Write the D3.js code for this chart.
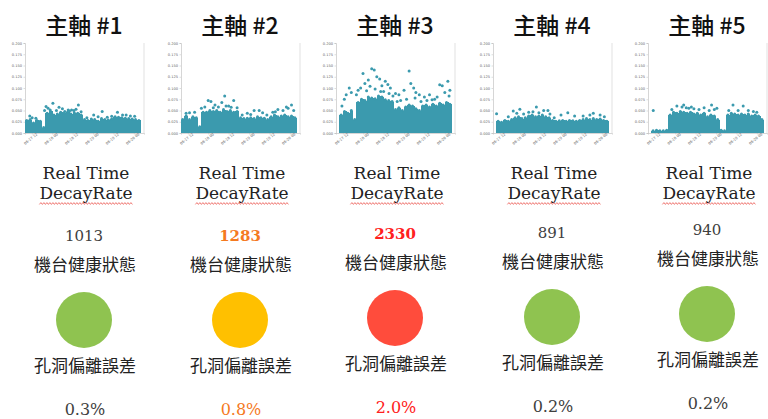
<!DOCTYPE html>
<html>
<head>
<meta charset="utf-8">
<script src="https://cdn.jsdelivr.net/npm/d3@7"></script>
<style>
  body { margin: 0; background: #fff; }
  svg { display: block; }
</style>
</head>
<body>
<div id="panel"></div>
<script>
// spindle names + status values
const spindles = ["主軸 #1", "主軸 #2", "主軸 #3", "主軸 #4", "主軸 #5"];
const decayRate = [1013, 1283, 2330, 891, 940];
const holeError = ["0.3%", "0.8%", "2.0%", "0.2%", "0.2%"];
const status = ["ok", "warn", "alarm", "ok", "ok"];

// y ticks of the small scatter charts
const yTicks = [0, 0.025, 0.05, 0.075, 0.1, 0.125, 0.15, 0.175, 0.2];
// x ticks (hours from 08-17 08:00)
const xTickHours = [4, 16, 28, 40, 52, 64];
const xTickLabels = ["08-17 12", "08-18 00", "08-18 12", "08-19 00", "08-19 12", "08-20 00"];

// dense band of points: top value per 2-hour bin
const binHours = [1,3,5,7,9,11,13,15,17,19,21,23,25,27,29,31,33,35,37,39,41,43,45,47,49,51,53,55,57,59,61,63,65,67];
const band1 = [0.028,0.030,0.022,0.028,0.026,0.012,0.044,0.048,0.040,0.042,0.046,0.044,0.046,0.042,0.045,0.044,0.040,0.030,0.028,0.031,0.030,0.026,0.032,0.030,0.029,0.031,0.036,0.035,0.034,0.033,0.032,0.031,0.030,0.028];
const band2 = [0.030,0.038,0.030,0.036,0.034,0.014,0.046,0.046,0.050,0.048,0.050,0.046,0.052,0.048,0.050,0.046,0.048,0.034,0.032,0.033,0.034,0.032,0.036,0.034,0.033,0.030,0.036,0.040,0.036,0.038,0.040,0.036,0.038,0.034];
const band3 = [0,0.040,0.048,0.044,0.050,0.030,0.068,0.075,0.072,0.080,0.078,0.076,0.082,0.080,0.074,0.072,0.070,0.052,0.056,0.050,0.058,0.062,0.060,0.054,0.050,0.060,0.062,0.058,0.064,0.060,0.066,0.062,0.068,0.064];
const band4 = [0,0.026,0.024,0.028,0.026,0.030,0.034,0.036,0.032,0.034,0.038,0.040,0.036,0.038,0.040,0.036,0.034,0.028,0.026,0.027,0.028,0.026,0.028,0.027,0.026,0.028,0.030,0.032,0.030,0.032,0.030,0.031,0.028,0.026];
const band5 = [0,0.005,0.006,0.005,0.005,0.006,0.040,0.046,0.044,0.048,0.046,0.044,0.046,0.042,0.044,0.040,0.044,0.036,0.040,0.038,0.030,0.006,0.005,0.040,0.044,0.042,0.040,0.042,0.040,0.042,0.038,0.040,0.038,0.030];

// single points sticking out of the band: [hour, value]
const peaks1 = [[16.4,0.066],[31.4,0.062],[12.4,0.059],[20,0.057],[25.4,0.051],[27.4,0.051],[23.4,0.048],[45.4,0.048],[54.4,0.046],[40.4,0.040],[2.8,0.038],[6.4,0.033],[62,0.038],[57.4,0.040],[48.4,0.035],[36.4,0.034],[14.8,0.051],[30,0.053],[22,0.054],[18.5,0.050],[33,0.047],[11.5,0.050],[13.6,0.055],[26.2,0.049],[28.8,0.050],[43,0.036],[51,0.037],[59.5,0.040],[64.5,0.037],[4.2,0.034]];
const peaks2 = [[16,0.072],[17.6,0.070],[25.7,0.082],[24,0.068],[31,0.072],[20,0.062],[28,0.060],[22,0.058],[33,0.056],[14,0.058],[12,0.055],[5,0.045],[8,0.046],[3,0.044],[43,0.050],[46,0.050],[39,0.044],[48,0.045],[57,0.052],[60,0.050],[63,0.055],[65,0.062],[62,0.058],[54,0.046],[36,0.040],[19,0.056],[26.5,0.060],[29.5,0.057],[41,0.041],[50.5,0.040],[55.5,0.047],[66.3,0.050]];
const peaks3 = [[4.9,0.075],[7.8,0.100],[6,0.085],[9,0.090],[3.5,0.060],[15.9,0.132],[13,0.095],[17,0.110],[21,0.143],[22.5,0.140],[19,0.118],[24,0.125],[25.7,0.120],[27,0.105],[29,0.115],[30.5,0.108],[32,0.100],[28,0.092],[35,0.088],[37,0.085],[40,0.095],[43,0.138],[44,0.110],[45.7,0.100],[47,0.090],[49,0.085],[52,0.080],[55,0.085],[58,0.075],[61,0.107],[62.5,0.105],[64,0.090],[65.8,0.115],[67,0.095],[14.5,0.100],[20,0.104],[38,0.072],[50,0.070],[12,0.085],[18,0.094],[23,0.098],[26.3,0.092],[31.2,0.088],[33.5,0.082],[36,0.070],[41.5,0.075],[46.5,0.078],[53.5,0.072],[56.5,0.074],[59.5,0.080],[66.5,0.082]];
const peaks4 = [[2.1,0.043],[11.9,0.049],[15.8,0.053],[25.5,0.058],[29.8,0.050],[32.3,0.050],[21,0.046],[27,0.045],[33.5,0.042],[44,0.045],[40,0.040],[59,0.044],[57,0.040],[63,0.040],[48,0.038],[18,0.042],[9,0.036],[53,0.038],[23.5,0.047],[14,0.044],[36,0.034],[65.5,0.036]];
const peaks5 = [[3.1,0.050],[21,0.0625],[20,0.058],[17,0.060],[24,0.055],[27,0.054],[30,0.052],[33,0.056],[37.4,0.062],[39,0.052],[40.5,0.055],[36,0.050],[50,0.062],[56,0.060],[53,0.050],[59,0.050],[62,0.048],[14,0.052],[22.5,0.056],[25.5,0.058],[47.5,0.050],[64,0.046]];

const bands = [band1, band2, band3, band4, band5];
const peaks = [peaks1, peaks2, peaks3, peaks4, peaks5];

const W = 768, H = 419;
const colX = [84, 240, 395, 552, 707];   // column centres
const colDy = [0, 0, -2, -3, -6];        // lower rows drift up a bit to the right
const dotColor = "#3b9aae";
const lightColor = { ok: "#8fc350", warn: "#ffc000", alarm: "#ff4c3c" };
const textColor = { ok: "#404040", warn: "#f57a1f", alarm: "#ff2020" };

const svg = d3.select("#panel").append("svg")
    .attr("width", W)
    .attr("height", H);

const cjk = "'Noto Sans CJK TC', 'Noto Sans CJK SC', sans-serif";
const serif = "'DejaVu Serif', serif";

spindles.forEach((name, i) => {
    const cx = colX[i];
    const dy = colDy[i];
    const g = svg.append("g");

    // title
    g.append("text")
        .attr("x", cx)
        .attr("y", 24)
        .attr("text-anchor", "middle")
        .attr("dominant-baseline", "central")
        .style("font-family", cjk)
        .style("font-size", "23px")
        .style("font-weight", 500)
        .attr("fill", "#111")
        .text(name);

    // small scatter chart
    const left = cx - 59, right = cx + 60, top = 43, bottom = 133;
    const x = d3.scaleLinear().domain([0, 70]).range([left, right]);
    const y = d3.scaleLinear().domain([0, 0.2]).range([bottom, top]);

    const yAxis = g.append("g")
        .attr("transform", `translate(${left},0)`)
        .call(d3.axisLeft(y).tickValues(yTicks).tickFormat(d3.format(".3f")).tickSize(1.5).tickPadding(1.5));
    yAxis.selectAll("text").style("font-size", "3.6px").style("font-family", "'DejaVu Sans', sans-serif").attr("fill", "#666");

    const xAxis = g.append("g")
        .attr("transform", `translate(0,${bottom})`)
        .call(d3.axisBottom(x).tickValues(xTickHours).tickFormat((d, k) => xTickLabels[k]).tickSize(1.5).tickPadding(1));
    xAxis.selectAll("text")
        .style("font-size", "3.6px")
        .style("font-family", "'DejaVu Sans', sans-serif")
        .attr("fill", "#666")
        .attr("transform", "translate(-4,3)rotate(-40)")
        .style("text-anchor", "middle");
    g.selectAll(".domain").attr("stroke", "#bbb").attr("stroke-width", 0.6);
    g.selectAll(".tick line").attr("stroke", "#bbb").attr("stroke-width", 0.5);

    // right spine
    g.append("line")
        .attr("x1", right).attr("x2", right)
        .attr("y1", top).attr("y2", bottom)
        .attr("stroke", "#ccc")
        .attr("stroke-width", 0.6);

    // dense band
    const bandData = binHours.map((h, k) => ({ h, v: bands[i][k] })).filter(d => d.v > 0);
    g.selectAll("rect.band")
        .data(bandData)
        .join("rect")
        .attr("class", "band")
        .attr("x", d => x(d.h - 1))
        .attr("width", d => x(d.h + 1) - x(d.h - 1) + 0.3)
        .attr("y", d => y(d.v))
        .attr("height", d => y(0) - y(d.v))
        .attr("shape-rendering", "crispEdges")
        .attr("fill", dotColor);

    // ragged top of the band
    g.selectAll("circle.top")
        .data(bandData)
        .join("circle")
        .attr("class", "top")
        .attr("cx", d => x(d.h))
        .attr("cy", d => y(d.v))
        .attr("r", 1.5)
        .attr("fill", dotColor);

    // points above the band
    g.selectAll("circle.pt")
        .data(peaks[i])
        .join("circle")
        .attr("class", "pt")
        .attr("cx", d => x(d[0]))
        .attr("cy", d => y(d[1]))
        .attr("r", 1.5)
        .attr("fill", dotColor);

    // label "Real Time DecayRate"
    g.append("text")
        .attr("x", cx + 2)
        .attr("y", 179)
        .attr("text-anchor", "middle")
        .style("font-family", serif)
        .style("font-size", "17px")
        .attr("fill", "#222")
        .text("Real Time");
    const dr = g.append("text")
        .attr("x", cx + 2)
        .attr("y", 199)
        .attr("text-anchor", "middle")
        .style("font-family", serif)
        .style("font-size", "17px")
        .attr("fill", "#222")
        .text("DecayRate");

    // red squiggle under DecayRate
    const len = dr.node().getComputedTextLength();
    const x0 = cx + 2 - len / 2, x1 = cx + 2 + len / 2;
    const zig = d3.range(x0, x1 + 0.1, 1.5).map((px, k) => [px, 203.5 + (k % 2 ? -0.9 : 0.9)]);
    g.append("path")
        .attr("d", d3.line()(zig))
        .attr("fill", "none")
        .attr("stroke", "#e8403a")
        .attr("stroke-width", 0.7);

    // decay value
    const st = status[i];
    g.append("text")
        .attr("x", cx)
        .attr("y", 236 + dy)
        .attr("text-anchor", "middle")
        .attr("dominant-baseline", "central")
        .style("font-family", serif)
        .style("font-size", "15px")
        .style("font-weight", st === "ok" ? 400 : 700)
        .attr("fill", textColor[st])
        .text(decayRate[i]);

    g.append("text")
        .attr("x", cx + 1)
        .attr("y", 263 + dy)
        .attr("text-anchor", "middle")
        .attr("dominant-baseline", "central")
        .style("font-family", cjk)
        .style("font-size", "17px")
        .attr("fill", "#222")
        .text("機台健康狀態");

    // status light
    g.append("circle")
        .attr("cx", cx)
        .attr("cy", 320 + dy)
        .attr("r", 28)
        .attr("fill", lightColor[st]);

    g.append("text")
        .attr("x", cx + 1)
        .attr("y", 364 + dy)
        .attr("text-anchor", "middle")
        .attr("dominant-baseline", "central")
        .style("font-family", cjk)
        .style("font-size", "17px")
        .attr("fill", "#222")
        .text("孔洞偏離誤差");

    g.append("text")
        .attr("x", cx + 1)
        .attr("y", 409 + dy)
        .attr("text-anchor", "middle")
        .attr("dominant-baseline", "central")
        .style("font-family", serif)
        .style("font-size", "16px")
        .attr("fill", textColor[st])
        .text(holeError[i]);
});
</script>
</body>
</html>
